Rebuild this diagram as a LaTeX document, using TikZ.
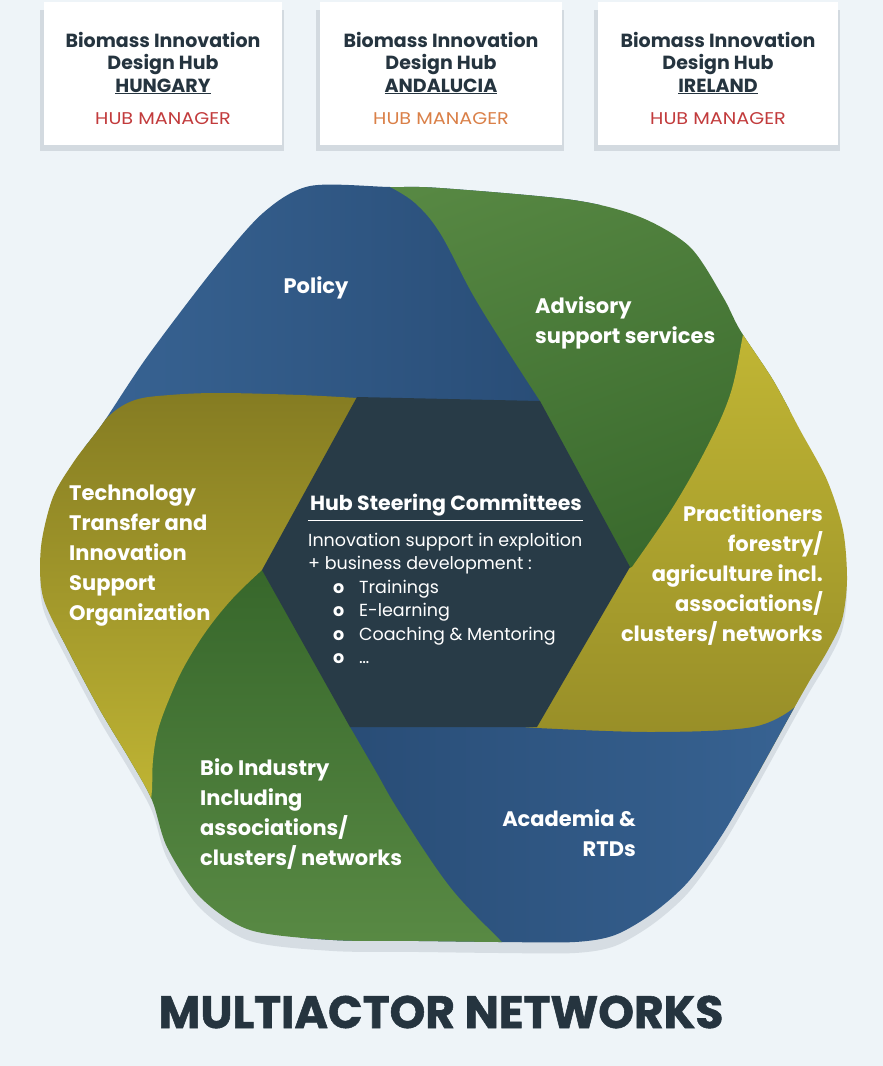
\documentclass[tikz,border=0pt]{standalone}
\usepackage{fontspec}
\setmainfont{Poppins}
\usepackage{xcolor}

\definecolor{pagebg}{HTML}{EEF4F8}
\definecolor{boxshadow}{HTML}{D3DAE0}
\definecolor{shapeshadow}{HTML}{D6DDE3}
\definecolor{inkdark}{HTML}{25343F}
\definecolor{mgrred}{HTML}{C23B3C}
\definecolor{mgrorange}{HTML}{DA8048}
\definecolor{bluelt}{HTML}{3B6899}
\definecolor{bluedk}{HTML}{274A73}
\definecolor{greenlt}{HTML}{5A8B45}
\definecolor{greendk}{HTML}{37672B}
\definecolor{yellowlt}{HTML}{C4B935}
\definecolor{yellowdk}{HTML}{857C22}
\definecolor{hubdark}{HTML}{283B47}

\newcommand\multiactoroutline{plot[smooth cycle, tension=0.5] coordinates {
  (310,186) (390,187) (440,188) (573,200) (640,217) (690,247) (723,297) (740,330)
  (773,380) (800,430) (827,480) (843,530) (847,580) (842,620) (828,650) (810,680)
  (793,710) (757,775) (722,835) (688,882) (653,913) (615,935) (575,942) (500,942)
  (420,941) (333,940) (250,930) (200,897) (167,847) (152,800) (130,760) (100,710)
  (68,650) (43,597) (41,547) (53,497) (75,460) (103,423) (147,357) (213,270) (263,213)}}
\newcommand\hubitem[1]{\hspace*{25pt}\makebox[26pt][l]{\textbf{o}}#1}

\tikzset{
  box title/.style={text=inkdark, align=center, inner sep=0pt, font=\fontsize{19}{22.5}\selectfont\bfseries},
  manager/.style={inner sep=0pt, font=\fontsize{17}{20}\selectfont},
  band label/.style={text=white, inner sep=0pt, font=\fontsize{21}{30}\selectfont\bfseries},
  hub body/.style={text=white, align=left, inner sep=0pt, font=\fontsize{17.5}{23.4}\selectfont},
}

\begin{document}
\begin{tikzpicture}[x=1pt,y=-1pt]
  \useasboundingbox (0,0) rectangle (883,1066);
  \fill[pagebg] (0,0) rectangle (883,1066);

  % hub boxes
  \foreach \xa/\xb/\hubname/\mcol [count=\i] in {44/282/HUNGARY/mgrred, 320/562/ANDALUCIA/mgrorange, 598/838/IRELAND/mgrred}{
    \fill[boxshadow] (\xa-4,10) rectangle (\xb+2,151);
    \fill[white] (\xa,2) rectangle (\xb,145);
    \node[box title] (hub\i) at ({(\xa+\xb)/2},63) {Biomass Innovation\\Design Hub\\\underline{\hubname}};
    \node[manager, text=\mcol] (mgr\i) at ({(\xa+\xb)/2},119) {\scalebox{1.13}[1]{HUB MANAGER}};
  }

  % ribbon
  \fill[shapeshadow, shift={(0,11)}] \multiactoroutline;
  \begin{scope}
    \clip \multiactoroutline;
    \shade[left color=bluelt, middle color=bluelt, right color=bluedk]
      (0,80) -- (600,80) -- (600,402) -- (540,402) -- (340,440) -- (0,450) -- cycle;
    \shade[top color=greenlt, middle color=greenlt, bottom color=greendk, shading angle=20]
      (388,80) -- plot[smooth, tension=0.6] coordinates {(390,187) (415,203) (440,233) (473,295) (507,350) (540,401)}
      -- (520,420) -- (600,580) -- (640,575) -- (760,440) -- (900,300) -- (900,80) -- cycle;
    \shade[top color=yellowlt, middle color=yellowlt, bottom color=yellowdk!80!yellowlt]
      (560,600) -- plot[smooth, tension=0.6] coordinates {(632,567) (673,507) (707,447) (730,395) (742,340) (748,300)}
      -- (900,300) -- (900,800) -- (480,800) -- (480,700) -- cycle;
    \shade[left color=bluedk, middle color=bluelt, right color=bluelt]
      (300,712) -- plot[smooth, tension=0.6] coordinates {(537,728) (653,732) (753,727) (795,707)}
      -- (820,690) -- (900,690) -- (900,1000) -- (300,1000) -- cycle;
    \shade[top color=greendk, middle color=greenlt, bottom color=greenlt]
      (0,650) -- (262,570) -- (300,580) -- (355,715) -- plot[smooth, tension=0.6] coordinates {(350,727) (375,770) (400,813) (450,887) (500,940) (520,960)}
      -- (0,960) -- cycle;
    \shade[top color=yellowdk, middle color=yellowlt, bottom color=yellowlt]
      (385,404) -- plot[smooth, tension=0.6] coordinates {(357,398) (300,395) (220,393) (170,395) (135,400) (110,415) (90,440)}
      -- (0,480) -- (0,835) -- plot[smooth, tension=0.6] coordinates {(150,805) (152,790) (153,760) (158,730) (170,697) (185,665) (207,630) (233,598) (262,570)}
      -- (330,520) -- cycle;
    \fill[hubdark] (357,397) -- (540,401) -- (630,567) -- (537,727) -- (350,727) -- (262,570) -- cycle;
  \end{scope}

  % band labels
  \node[band label] (policy) at (316,288) {Policy};
  \node[band label, align=left, anchor=west] (advisory) at (535,323) {Advisory\\support services};
  \node[band label, align=left, anchor=west] (techtransfer) at (69,556) {Technology\\Transfer and\\Innovation\\Support\\Organization};
  \node[band label, align=right, anchor=east] (practitioners) at (823,575) {\fontsize{21}{30.8}\selectfont Practitioners\\forestry/\\agriculture incl.\\associations/\\clusters/ networks};
  \node[band label, align=left, anchor=west] (bioindustry) at (200,814) {Bio Industry\\Including\\associations/\\clusters/ networks};
  \node[band label, align=right, anchor=east] (academia) at (636,833) {Academia \&\\RTDs};

  % hub steering committees
  \node[text=white, inner sep=0pt, font=\fontsize{20.5}{24}\selectfont\bfseries] (hubtitle) at (446,505) {Hub Steering Committees};
  \draw[white, line width=1.3pt] ([xshift=-2pt,yshift=-4pt]hubtitle.south west) -- ([xshift=1pt,yshift=-4pt]hubtitle.south east);
  \node[hub body, anchor=north west] (hubbody) at (308,533) {Innovation support in exploition\\+ business development :\\\hubitem{Trainings}\\\hubitem{E-learning}\\\hubitem{Coaching \& Mentoring}\\\hubitem{\textellipsis}};

  \node[text=inkdark, inner sep=0pt, font=\fontsize{45.5}{50}\selectfont\bfseries\addfontfeatures{FakeBold=1.2}] (networks) at (441,1012) {MULTIACTOR NETWORKS};
\end{tikzpicture}
\end{document}
